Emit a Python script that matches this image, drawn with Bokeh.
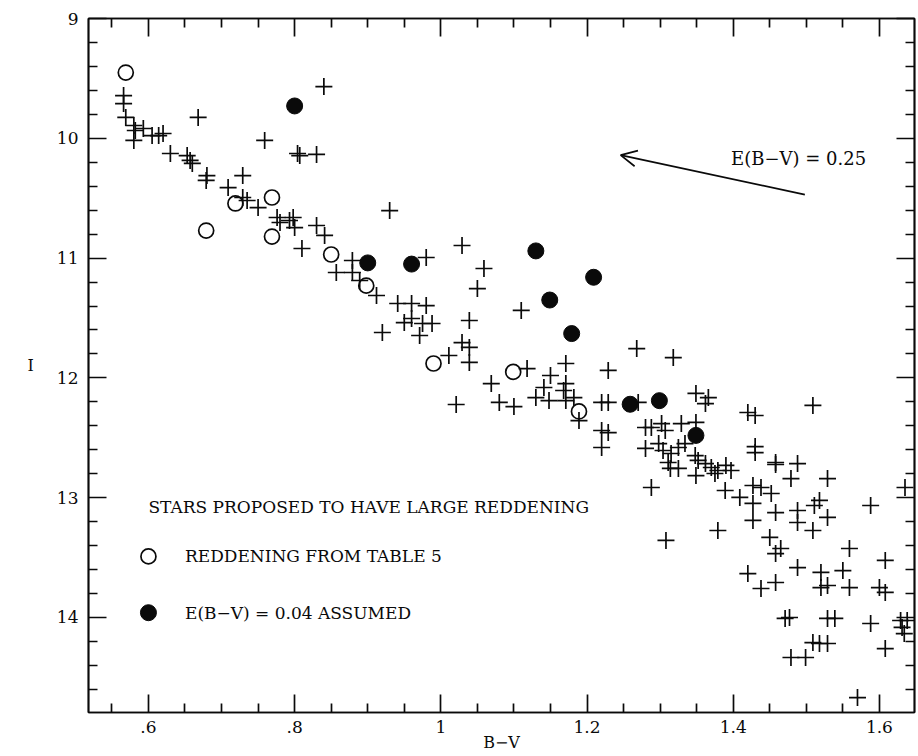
from bokeh.plotting import figure
from bokeh.models import (Range1d, FixedTicker, LinearAxis, Label, Arrow, OpenHead,
                          ColumnDataSource, CustomLabelingPolicy)
from bokeh.embed import file_html
from bokeh.resources import INLINE

# ---------------- data ----------------
plus_bv = [0.566, 0.566, 0.569, 0.580, 0.582, 0.580, 0.593, 0.605, 0.614, 0.620,
           0.668, 0.759, 0.840, 0.630, 0.653, 0.657, 0.660, 0.680, 0.679, 0.709,
           0.729, 0.729, 0.735, 0.750, 0.776, 0.780, 0.793, 0.800, 0.798, 0.830,
           0.841, 0.810, 0.804, 0.807, 0.830, 0.930, 0.857, 0.879, 0.879, 0.889,
           0.912, 0.941, 0.960, 0.980, 0.920, 0.980, 1.029, 1.059, 1.050, 1.110,
           0.950, 0.975, 0.988, 0.971, 0.960, 1.039, 1.029, 1.039, 1.039, 1.011,
           1.118, 1.069, 1.021, 1.080, 1.100, 1.130, 1.141, 1.150, 1.171, 1.171,
           1.168, 1.148, 1.171, 1.182, 1.189, 1.229, 1.220, 1.229, 1.220, 1.229,
           1.220, 1.268, 1.318, 1.270, 1.349, 1.366, 1.362, 1.420, 1.430, 1.509,
           1.280, 1.288, 1.302, 1.307, 1.329, 1.349, 1.280, 1.298, 1.304, 1.315,
           1.325, 1.334, 1.314, 1.325, 1.311, 1.348, 1.352, 1.349, 1.362, 1.370,
           1.379, 1.390, 1.397, 1.375, 1.430, 1.430, 1.458, 1.458, 1.488, 1.479,
           1.529, 1.288, 1.389, 1.409, 1.427, 1.438, 1.452, 1.427, 1.427, 1.458,
           1.488, 1.488, 1.511, 1.518, 1.529, 1.509, 1.450, 1.465, 1.458, 1.379,
           1.308, 1.559, 1.588, 1.635, 1.608, 1.550, 1.520, 1.488, 1.420, 1.458,
           1.438, 1.520, 1.529, 1.559, 1.600, 1.608, 1.471, 1.477, 1.529, 1.539,
           1.588, 1.629, 1.631, 1.634, 1.638, 1.509, 1.518, 1.529, 1.608, 1.479,
           1.499, 1.570]
plus_i = [9.643, 9.710, 9.826, 9.893, 9.935, 10.018, 9.918, 9.977, 9.977, 9.960,
          9.826, 10.018, 9.568, 10.127, 10.144, 10.185, 10.210, 10.311, 10.352, 10.411,
          10.311, 10.494, 10.519, 10.578, 10.661, 10.703, 10.686, 10.745, 10.661, 10.728,
          10.811, 10.920, 10.127, 10.144, 10.135, 10.603, 11.120, 11.020, 11.120, 11.187,
          11.312, 11.379, 11.379, 11.396, 11.621, 10.995, 10.895, 11.087, 11.254, 11.437,
          11.538, 11.546, 11.546, 11.646, 11.504, 11.521, 11.705, 11.746, 11.871, 11.813,
          11.922, 12.047, 12.222, 12.205, 12.239, 12.164, 12.080, 11.980, 11.880, 12.047,
          12.105, 12.189, 12.189, 12.164, 12.356, 11.938, 12.205, 12.205, 12.439, 12.456,
          12.581, 11.755, 11.830, 12.205, 12.130, 12.164, 12.214, 12.289, 12.314, 12.230,
          12.414, 12.414, 12.381, 12.439, 12.381, 12.372, 12.589, 12.548, 12.606, 12.631,
          12.581, 12.548, 12.756, 12.756, 12.706, 12.648, 12.689, 12.815, 12.715, 12.748,
          12.773, 12.731, 12.773, 12.798, 12.573, 12.623, 12.706, 12.723, 12.715, 12.840,
          12.840, 12.915, 12.940, 12.998, 12.898, 12.915, 12.965, 13.048, 13.190, 13.124,
          13.107, 13.207, 13.065, 13.023, 13.165, 13.274, 13.332, 13.424, 13.466, 13.274,
          13.357, 13.424, 13.065, 12.915, 13.524, 13.608, 13.624, 13.583, 13.633, 13.708,
          13.758, 13.750, 13.733, 13.750, 13.750, 13.791, 14.008, 14.000, 14.008, 14.008,
          14.050, 14.025, 14.083, 14.134, 14.025, 14.209, 14.217, 14.217, 14.259, 14.334,
          14.334, 14.668]

# stars with reddening from Table 5 (open circles)
open_bv = [0.569, 0.719, 0.769, 0.679, 0.769, 0.850, 0.898, 0.990, 1.099, 1.189]
open_i = [9.451, 10.544, 10.494, 10.770, 10.820, 10.970, 11.230, 11.880, 11.950, 12.280]

# stars with E(B-V) = 0.04 assumed (filled circles)
filled_bv = [0.800, 0.900, 0.960, 1.130, 1.149, 1.209, 1.179, 1.259, 1.299, 1.349]
filled_i = [9.730, 11.040, 11.050, 10.940, 11.350, 11.160, 11.630, 12.220, 12.190, 12.480]

# reddening vector E(B-V) = 0.25
vec_start = (1.498, 10.47)
vec_end = (1.246, 10.14)

x_major = [0.6, 0.8, 1.0, 1.2, 1.4, 1.6]
x_major_labels = [".6", ".8", "1", "1.2", "1.4", "1.6"]
x_minor = [0.55, 0.65, 0.7, 0.75, 0.85, 0.9, 0.95, 1.05, 1.1, 1.15, 1.25, 1.3, 1.35,
           1.45, 1.5, 1.55, 1.65]
y_major = [9, 10, 11, 12, 13, 14]
y_major_labels = ["9", "10", "11", "12", "13", "14"]
y_minor = [9.2, 9.4, 9.6, 9.8, 10.2, 10.4, 10.6, 10.8, 11.2, 11.4, 11.6, 11.8,
           12.2, 12.4, 12.6, 12.8, 13.2, 13.4, 13.6, 13.8, 14.2, 14.4, 14.6]

FONT = "DejaVu Serif"
INK = "#0a0a0a"

p = figure(width=918, height=756, output_backend="svg", toolbar_location=None,
           x_range=Range1d(0.518, 1.648), y_range=Range1d(14.793, 9.0),
           min_border_left=88, min_border_right=1, min_border_top=18, min_border_bottom=44,
           background_fill_color="white", border_fill_color="white")
p.grid.visible = False
p.outline_line_color = INK
p.outline_line_width = 1.7

bottom = p.below[0]
left = p.left[0]

xt = FixedTicker(ticks=x_major, minor_ticks=x_minor)
yt = FixedTicker(ticks=y_major, minor_ticks=y_minor)

no_labels = CustomLabelingPolicy(code="return new Set()")
top = LinearAxis(ticker=xt, major_label_policy=no_labels, major_label_text_font_size="1px",
                 major_label_standoff=0)
right = LinearAxis(ticker=yt, major_label_policy=no_labels, major_label_text_font_size="1px",
                   major_label_standoff=0)
p.add_layout(top, "above")
p.add_layout(right, "right")

for ax, tk in [(bottom, xt), (left, yt), (top, xt), (right, yt)]:
    ax.ticker = tk
    ax.major_tick_in = 18
    ax.major_tick_out = 0
    ax.minor_tick_in = 9
    ax.minor_tick_out = 0
    ax.major_tick_line_color = INK
    ax.minor_tick_line_color = INK
    ax.major_tick_line_width = 1.7
    ax.minor_tick_line_width = 1.7
    ax.axis_line_color = INK
    ax.axis_line_width = 1.7
    ax.major_label_text_font = FONT
    ax.major_label_text_color = INK

bottom.major_label_overrides = dict(zip(x_major, x_major_labels))
left.major_label_overrides = dict(zip(y_major, y_major_labels))
bottom.major_label_text_font_size = "17px"
left.major_label_text_font_size = "17px"
bottom.major_label_standoff = 8
left.major_label_standoff = 10

bottom.axis_label = "B\u2212V"
bottom.axis_label_text_font = FONT
bottom.axis_label_text_font_style = "normal"
bottom.axis_label_text_font_size = "16px"
bottom.axis_label_text_color = INK
bottom.axis_label_standoff = -3

left.axis_label = "I"
left.axis_label_orientation = "horizontal"
left.axis_label_text_font = FONT
left.axis_label_text_font_style = "normal"
left.axis_label_text_font_size = "16px"
left.axis_label_text_color = INK
left.axis_label_standoff = 20

# data marks
plus_src = ColumnDataSource(dict(bv=plus_bv, i=plus_i))
open_src = ColumnDataSource(dict(bv=open_bv, i=open_i))
filled_src = ColumnDataSource(dict(bv=filled_bv, i=filled_i))

p.scatter("bv", "i", source=plus_src, marker="cross", size=17, line_color=INK, line_width=1.7)
p.scatter("bv", "i", source=open_src, marker="circle", size=15, fill_color=None,
          line_color=INK, line_width=1.7)
p.scatter("bv", "i", source=filled_src, marker="circle", size=16, fill_color=INK,
          line_color=INK, line_width=1)

# reddening arrow
p.add_layout(Arrow(end=OpenHead(size=16, line_color=INK, line_width=1.7),
                   x_start=vec_start[0], y_start=vec_start[1],
                   x_end=vec_end[0], y_end=vec_end[1],
                   line_color=INK, line_width=1.7))
p.add_layout(Label(x=1.397, y=10.17, text="E(B\u2212V) = 0.25", text_font=FONT,
                   text_font_size="18px", text_baseline="middle", text_color=INK))

# legend (hand-drawn as in the original)
leg_x_marker = 0.6
leg_x_text = 0.65
p.add_layout(Label(x=leg_x_marker, y=13.08, text="STARS PROPOSED TO HAVE LARGE REDDENING",
                   text_font=FONT, text_font_size="17px", text_baseline="middle", text_color=INK))
p.scatter([leg_x_marker], [13.49], marker="circle", size=15, fill_color=None,
          line_color=INK, line_width=1.7)
p.add_layout(Label(x=leg_x_text, y=13.49, text="REDDENING FROM TABLE 5",
                   text_font=FONT, text_font_size="17px", text_baseline="middle", text_color=INK))
p.scatter([leg_x_marker], [13.96], marker="circle", size=16, fill_color=INK,
          line_color=INK, line_width=1)
p.add_layout(Label(x=leg_x_text, y=13.96, text="E(B\u2212V) = 0.04 ASSUMED",
                   text_font=FONT, text_font_size="17px", text_baseline="middle", text_color=INK))

open("out.html", "w").write(file_html(p, INLINE))
